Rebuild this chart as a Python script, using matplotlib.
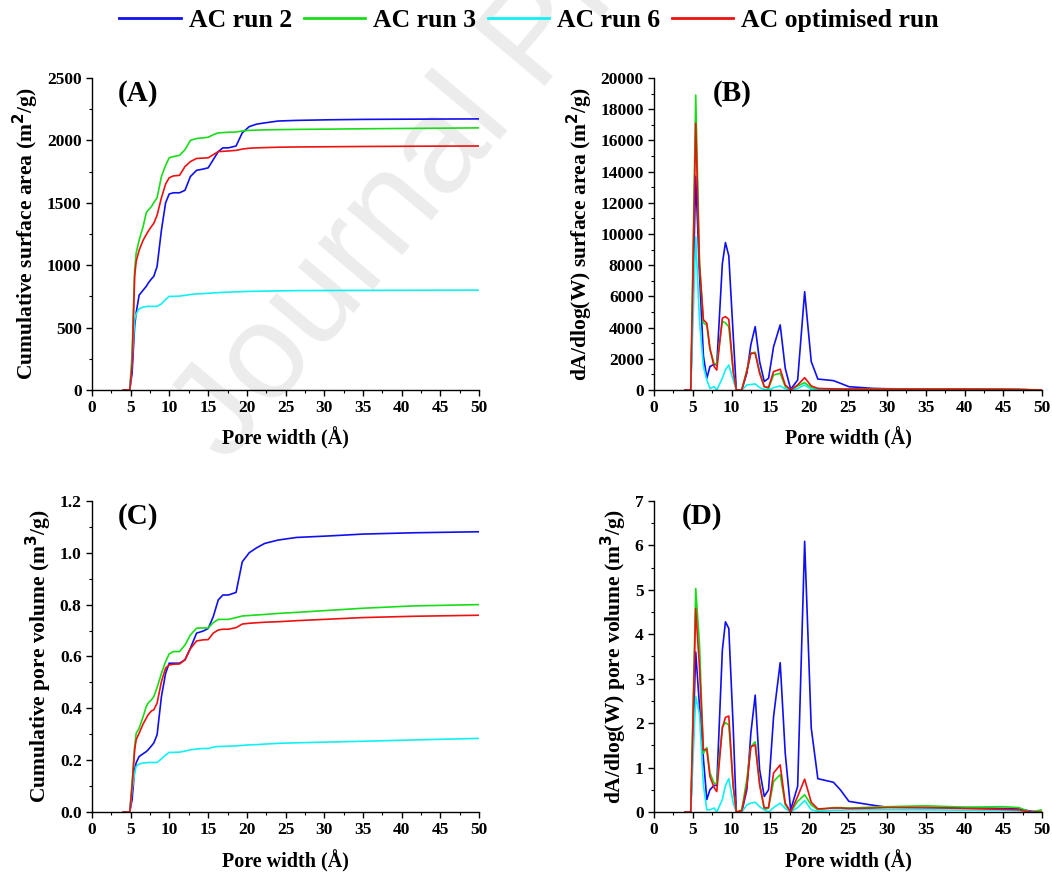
import matplotlib
matplotlib.use("Agg")
import matplotlib.pyplot as plt
from matplotlib.ticker import MultipleLocator, FormatStrFormatter
from matplotlib.lines import Line2D

plt.rcParams['font.family'] = ['Liberation Serif', 'DejaVu Serif']
plt.rcParams['font.weight'] = 'bold'

# series names / colours
labels = ["AC run 2", "AC run 3", "AC run 6", "AC optimised run"]
colors = ["#1010ee", "#18dd18", "#11f1f1", "#ee1111"]

# pore width grid for the cumulative curves (A, C)
w_cum = [4.0, 4.87, 5.17, 5.5, 5.7, 6.08, 6.6, 7.0, 7.24, 7.67, 7.97, 8.4, 8.96, 9.5,
         9.96, 10.5, 11.3, 12.0, 12.7, 13.5, 14.35, 15.0, 15.65, 16.3, 16.9, 17.6,
         18.6, 19.4, 20.3, 21.25, 22.3, 24.05, 26.4, 30.7, 35.0, 41.5, 50.0]

# (A) cumulative surface area, m2/g
area_run2 = [0, 0, 134, 510, 620, 760, 800, 830, 855, 890, 910, 990, 1280, 1500, 1570, 1580,
             1580, 1600, 1710, 1760, 1770, 1780, 1845, 1910, 1940, 1940, 1955, 2060, 2110,
             2130, 2140, 2155, 2160, 2165, 2168, 2170, 2172]
area_run3 = [0, 0, 294, 960, 1100, 1200, 1310, 1420, 1440, 1470, 1500, 1540, 1710, 1800,
             1860, 1870, 1880, 1925, 2000, 2015, 2020, 2025, 2045, 2060, 2062, 2065, 2067,
             2075, 2080, 2082, 2084, 2086, 2088, 2090, 2093, 2096, 2100]
area_run6 = [0, 0, 240, 560, 610, 650, 665, 668, 670, 670, 670, 670, 690, 725, 750, 750,
             752, 758, 765, 770, 772, 775, 778, 780, 782, 784, 786, 788, 790, 791, 792,
             794, 796, 797, 798, 799, 800]
area_opt = [0, 0, 200, 910, 1030, 1120, 1200, 1245, 1270, 1310, 1335, 1400, 1540, 1650,
            1700, 1715, 1720, 1790, 1830, 1855, 1858, 1860, 1885, 1910, 1912, 1915, 1920,
            1930, 1937, 1940, 1942, 1945, 1947, 1949, 1951, 1953, 1955]

# (C) cumulative pore volume
vol_run2 = [0, 0, 0.047, 0.163, 0.19, 0.214, 0.225, 0.233, 0.24, 0.255, 0.266, 0.298, 0.445,
            0.535, 0.574, 0.574, 0.574, 0.587, 0.632, 0.69, 0.698, 0.708, 0.753, 0.818,
            0.837, 0.837, 0.847, 0.965, 1.0, 1.019, 1.036, 1.049, 1.059, 1.065, 1.072,
            1.077, 1.081]
vol_run3 = [0, 0, 0.112, 0.25, 0.304, 0.323, 0.368, 0.407, 0.42, 0.433, 0.445, 0.48, 0.535,
            0.58, 0.61, 0.619, 0.619, 0.644, 0.683, 0.709, 0.71, 0.71, 0.73, 0.743, 0.743,
            0.743, 0.75, 0.756, 0.758, 0.76, 0.762, 0.766, 0.77, 0.778, 0.786, 0.795, 0.8]
vol_run6 = [0, 0, 0.086, 0.15, 0.176, 0.185, 0.189, 0.19, 0.191, 0.191, 0.191, 0.191, 0.205,
            0.22, 0.23, 0.23, 0.231, 0.235, 0.24, 0.243, 0.245, 0.245, 0.25, 0.253, 0.253,
            0.254, 0.255, 0.257, 0.259, 0.26, 0.262, 0.265, 0.267, 0.27, 0.273, 0.278, 0.284]
vol_opt = [0, 0, 0.099, 0.24, 0.279, 0.304, 0.34, 0.362, 0.375, 0.39, 0.394, 0.42, 0.503,
           0.555, 0.567, 0.57, 0.571, 0.587, 0.63, 0.66, 0.664, 0.665, 0.69, 0.702, 0.705,
           0.705, 0.711, 0.725, 0.728, 0.73, 0.732, 0.734, 0.738, 0.744, 0.75, 0.755, 0.759]

# pore width grid for the distributions (B, D)
w_psd = [4.0, 4.73, 5.37, 5.85, 6.36, 6.8, 7.2, 7.74, 8.08, 8.8, 9.2, 9.63, 10.2, 10.6,
         11.3, 11.95, 12.47, 13.03, 13.6, 14.2, 14.75, 15.4, 16.25, 16.9, 17.6, 18.5,
         19.4, 20.25, 21.1, 23.1, 24.0, 25.1, 28.3, 30.0, 35.0, 40.0, 45.0, 47.0, 48.5, 50.0]

# (B) dA/dlog(W) surface area
dA_run2 = [0, 0, 13700, 7500, 2200, 750, 1500, 1650, 1600, 8100, 9450, 8600, 3500, 0, 0,
           1070, 2900, 4060, 1820, 540, 750, 2780, 4170, 1390, 40, 640, 6300, 1820, 700,
           600, 430, 210, 100, 80, 60, 50, 40, 30, 10, 0]
dA_run3 = [0, 0, 18900, 8300, 4300, 4150, 2600, 1700, 1650, 4400, 4300, 4050, 1200, 0, 0,
           1280, 2350, 2420, 1180, 210, 100, 960, 1070, 210, 0, 260, 470, 150, 40, 60, 60,
           60, 80, 70, 70, 60, 50, 40, 20, 10]
dA_run6 = [0, 0, 9800, 4500, 1500, 640, 100, 210, 0, 750, 1300, 1600, 640, 0, 0, 320, 350,
           390, 150, 40, 0, 150, 260, 80, 0, 100, 320, 40, 0, 0, 0, 0, 0, 0, 0, 0, 0, 0, 0, 0]
dA_opt = [0, 0, 17100, 8000, 4500, 4280, 2670, 1500, 1280, 4600, 4700, 4530, 1180, 0, 0,
          1180, 2350, 2350, 1070, 210, 170, 1180, 1330, 320, 0, 320, 790, 260, 100, 70, 60,
          60, 60, 60, 50, 50, 40, 30, 10, 0]

# (D) dV/dlog(W) pore volume
dV_run2 = [0, 0, 3.6, 2.4, 1.2, 0.28, 0.5, 0.6, 0.6, 3.64, 4.28, 4.13, 1.9, 0, 0, 0.5,
           1.77, 2.63, 0.95, 0.35, 0.5, 2.15, 3.36, 1.32, 0.05, 0.58, 6.09, 1.89, 0.75,
           0.67, 0.5, 0.24, 0.15, 0.11, 0.1, 0.1, 0.08, 0.07, 0.02, 0.0]
dV_run3 = [0, 0, 5.03, 3.8, 1.32, 1.45, 0.88, 0.65, 0.64, 1.92, 2.01, 1.96, 0.58, 0, 0.05,
           0.73, 1.47, 1.58, 0.65, 0.05, 0.09, 0.69, 0.84, 0.16, 0, 0.24, 0.39, 0.16, 0.05,
           0.1, 0.1, 0.09, 0.11, 0.12, 0.14, 0.11, 0.12, 0.1, 0.0, 0.05]
dV_run6 = [0, 0, 2.6, 2.2, 0.6, 0.05, 0.05, 0.09, 0, 0.28, 0.6, 0.75, 0.2, 0, 0, 0.16, 0.2,
           0.22, 0.12, 0.05, 0, 0.1, 0.2, 0.08, 0, 0.1, 0.26, 0.05, 0.02, 0.04, 0.04, 0.05,
           0.05, 0.05, 0.05, 0.04, 0.04, 0.03, 0.0, 0.0]
dV_opt = [0, 0, 4.58, 3.27, 1.4, 1.41, 0.8, 0.55, 0.46, 1.89, 2.13, 2.16, 0.58, 0, 0.03,
          0.58, 1.47, 1.51, 0.61, 0.09, 0.1, 0.88, 1.06, 0.2, 0, 0.35, 0.74, 0.22, 0.07,
          0.09, 0.09, 0.08, 0.09, 0.1, 0.1, 0.08, 0.06, 0.05, 0.0, 0.0]

fig = plt.figure(figsize=(10.52, 8.74), dpi=100)

# faint watermark behind everything (cut off at the top edge, as in the source)
fig.text(0.215, 0.468, "Journal Pre-proof", fontsize=98, color="#ececec",
         family="Liberation Sans", fontweight="normal", rotation=50,
         rotation_mode="anchor", ha="left", va="baseline", zorder=-1)

panels = [
    ([0.0875, 0.5538, 0.368, 0.357], w_cum, [area_run2, area_run3, area_run6, area_opt],
     "Cumulative surface area (m$^\\mathbf{2}$/g)", (0, 2500), 500, 250, "%d", "(A)", 0.067),
    ([0.6217, 0.5538, 0.369, 0.357], w_psd, [dA_run2, dA_run3, dA_run6, dA_opt],
     "dA/dlog(W) surface area (m$^\\mathbf{2}$/g)", (0, 20000), 2000, 1000, "%d", "(B)", 0.15),
    ([0.0875, 0.0709, 0.368, 0.356], w_cum, [vol_run2, vol_run3, vol_run6, vol_opt],
     "Cumulative pore volume (m$^\\mathbf{3}$/g)", (0, 1.2), 0.2, 0.1, "%.1f", "(C)", 0.067),
    ([0.6217, 0.0709, 0.369, 0.356], w_psd, [dV_run2, dV_run3, dV_run6, dV_opt],
     "dA/dlog(W) pore volume (m$^\\mathbf{3}$/g)", (0, 7), 1, 0.5, "%d", "(D)", 0.072),
]

for rect, x, series, ylab, ylim, major, minor, fmt, tag, tagx in panels:
    ax = fig.add_axes(rect)
    ax.patch.set_alpha(0)
    for y, c in zip(series, colors):
        ax.plot(x, y, color=c, lw=1.2)
    ax.set_xlim(0, 50)
    ax.set_ylim(*ylim)
    ax.xaxis.set_major_locator(MultipleLocator(5))
    ax.xaxis.set_minor_locator(MultipleLocator(2.5))
    ax.yaxis.set_major_locator(MultipleLocator(major))
    ax.yaxis.set_minor_locator(MultipleLocator(minor))
    ax.yaxis.set_major_formatter(FormatStrFormatter(fmt))
    for s in ["top", "right"]:
        ax.spines[s].set_visible(False)
    for s in ["left", "bottom"]:
        ax.spines[s].set_linewidth(1.0)
    ax.tick_params(which="major", direction="out", length=4, width=1.0, labelsize=12.5)
    ax.tick_params(which="minor", direction="out", length=2.5, width=0.8)
    ax.set_xlabel("Pore width (Å)", fontsize=14.5, fontweight="bold", labelpad=8)
    ax.set_ylabel(ylab, fontsize=15.5, fontweight="bold", labelpad=4)
    ax.text(tagx, 0.95, tag, transform=ax.transAxes, fontsize=21, fontweight="bold",
            ha="left", va="center")

handles = [Line2D([], [], color=c, lw=2) for c in colors]
fig.legend(handles, labels, loc="center", bbox_to_anchor=(0.503, 0.976), ncol=4,
           frameon=False, fontsize=18.5, handlelength=2.4, handletextpad=0.3,
           columnspacing=0.45)

fig.savefig("out.png", dpi=100)
